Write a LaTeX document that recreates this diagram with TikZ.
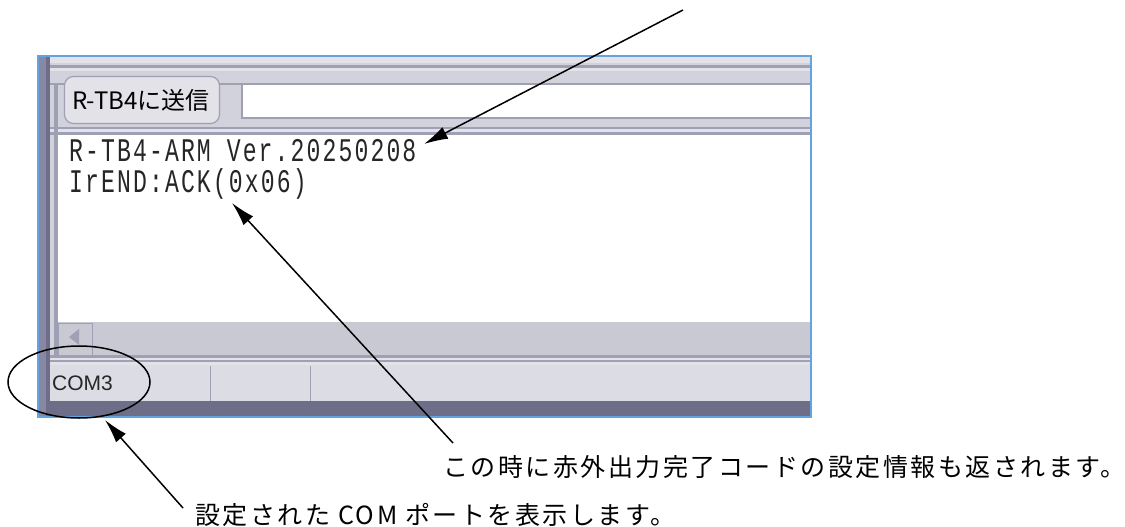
\documentclass[tikz,border=0pt]{standalone}
\usepackage{fontspec}
\usetikzlibrary{arrows.meta,shapes.geometric}
\setmainfont{Liberation Sans}
\newfontfamily\jp{Noto Sans CJK JP}
\newfontfamily\jpl[LetterSpace=10]{Noto Sans CJK JP}
\newfontfamily\term[FakeStretch=0.7,LetterSpace=6.4]{Liberation Mono}
\definecolor{winblue}{HTML}{62A4E0}
\definecolor{panel}{HTML}{D2D2DC}
\definecolor{lite}{HTML}{E2E2E8}
\definecolor{mid}{HTML}{A0A0B4}
\definecolor{scrollc}{HTML}{C9C9D3}
\definecolor{statusc}{HTML}{DCDCE4}
\definecolor{darkb}{HTML}{6E6E88}
\definecolor{sideb}{HTML}{8888A4}
\tikzset{
  band/.style={fill=#1,draw=none},
  callout/.style={draw=black,line width=1.5pt,-{Latex[length=24pt,width=13pt]}},
  note/.style={font=\jpl\fontsize{25}{25}\selectfont,anchor=west,inner sep=0pt},
  termtext/.style={font=\term\fontsize{33}{33}\selectfont,anchor=west,inner sep=0pt,text=black!85},
}
\begin{document}
\begin{tikzpicture}[x=1pt,y=-1pt]
\useasboundingbox (0,0) rectangle (1125,527);
% window bands
\fill[panel] (38,57) rectangle (810,416);
\fill[band=lite] (50,57) rectangle (810,63);
\fill[band=mid] (50,65) rectangle (810,68);
\fill[band=lite] (50,68) rectangle (810,71);
\fill[band=mid] (50,83) rectangle (810,85);
\fill[band=panel] (50,85) rectangle (242,117);
\fill[band=mid] (242,117) rectangle (810,119);
\fill[band=mid] (50,127) rectangle (810,129);
\fill[band=lite] (50,129) rectangle (810,132);
\fill[band=mid] (50,132) rectangle (810,135);
\fill[band=white] (58,135) rectangle (810,322);
\fill[band=scrollc] (58,322) rectangle (810,355);
\fill[band=mid] (50,355) rectangle (810,358);
\fill[band=lite] (50,358) rectangle (810,360);
\fill[band=mid] (50,360) rectangle (810,362);
\fill[band=lite] (50,362) rectangle (810,365);
\fill[band=statusc] (50,365) rectangle (810,401);
\fill[band=darkb] (50,401) rectangle (810,416);
\fill[band=sideb] (38,57) rectangle (46,416);
\fill[band=darkb] (46,57) rectangle (50,416);
\fill[band=mid] (54,85) rectangle (58,355);
% text field and button
\fill[band=white] (242,84) rectangle (810,118);
\draw[mid,line width=1.2pt] (810,84) -- (242,84) -- (242,118) -- (810,118);
\node[draw=mid,line width=1.2pt,fill=lite,rounded corners=9pt,minimum width=155pt,minimum height=47pt,inner sep=0pt] (sendbtn) at (142,100) {};
\node[font=\jp\fontsize{24}{24}\selectfont,inner sep=0pt] (sendlabel) at (141,100) {R-TB4に送信};
% scrollbar button
\draw[mid,line width=1pt,fill=scrollc] (58,323) rectangle (92,355);
\fill[mid] (79,329) -- (79,345) -- (69,337) -- cycle;
% status dividers
\draw[mid,line width=1pt] (210,366) -- (210,401);
\draw[mid,line width=1pt] (310,366) -- (310,401);
\node[font=\fontsize{21}{21}\selectfont,anchor=west,inner sep=0pt,text=black!85] (com) at (52,383) {COM3};
% frame
\draw[winblue,line width=2pt] (37.5,56.5) rectangle (810.5,416.5);
% terminal text
\node[termtext] (ver) at (69,151) {R-TB4-ARM Ver.20250208};
\node[termtext] (ack) at (69,184) {IrEND:ACK(0x06)};
% annotations
\node[draw=black,line width=1.5pt,ellipse,minimum width=142pt,minimum height=72pt,inner sep=0pt] (comring) at (79,382) {};
\coordinate (topfree) at (683,10);
\coordinate (vertip) at (424,144);
\coordinate (acktip) at (232,203);
\coordinate (comtip) at (105,420);
\coordinate (ackfree) at (453,443);
\coordinate (comfree) at (183,508);
\node[note] (note1) at (443,467) {この時に赤外出力完了コードの設定情報も返されます。};
\node[note] (note2) at (195,515) {設定された COM ポートを表示します。};
\draw[callout] (topfree) -- (vertip);
\draw[callout] (ackfree) -- (acktip);
\draw[callout] (comfree) -- (comtip);
\end{tikzpicture}
\end{document}
